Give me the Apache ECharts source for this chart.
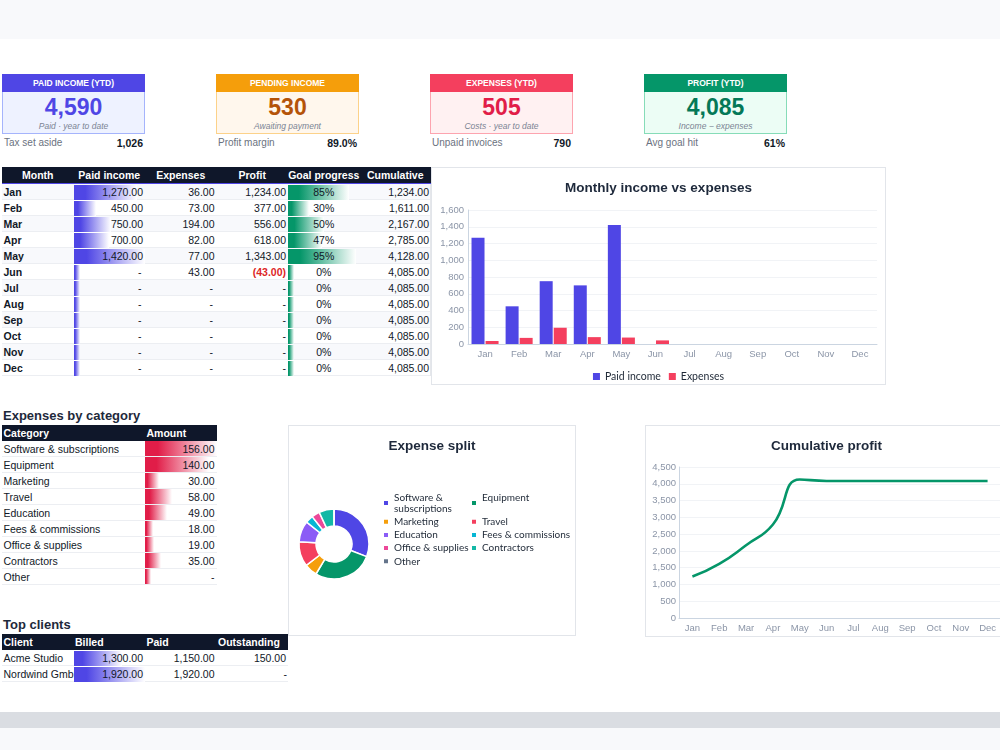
<!DOCTYPE html>
<html>
<head>
<meta charset="utf-8">
<script src="https://cdn.jsdelivr.net/npm/echarts@6/dist/echarts.min.js"></script>
<style>
*{box-sizing:border-box;}
html,body{margin:0;padding:0;}
body{width:1000px;height:750px;overflow:hidden;background:#fff;font-family:"Liberation Sans",Arial,sans-serif;color:#111827;}
#page{position:relative;width:1000px;height:750px;overflow:hidden;background:#fff;}
.a{position:absolute;}
.cell{position:absolute;overflow:hidden;white-space:nowrap;font-size:10.5px;color:#111827;}
.bar{position:absolute;left:0;}
.txt{position:relative;z-index:1;}
.box{position:absolute;border:1px solid #e2e5ea;background:#fff;}
.sec{font-weight:bold;font-size:13px;color:#1e293b;line-height:16px;white-space:nowrap;}
</style>
</head>
<body>
<div id="page">
  <div class="a" style="left:0;top:0;width:1000px;height:39px;background:#f8f9fb"></div>
  <div class="a" style="left:0;top:712px;width:1000px;height:16px;background:#dadde2"></div>
  <div class="a" style="left:0;top:728px;width:1000px;height:22px;background:#f8f9fb"></div>
  <div class="a sec" style="left:3px;top:408px">Expenses by category</div>
  <div class="a sec" style="left:3px;top:617px">Top clients</div>
  <div id="c1" class="box" style="left:431px;top:167px;width:455px;height:218px"></div>
  <div id="c2" class="box" style="left:288px;top:425px;width:288px;height:211px"></div>
  <div id="c3" class="box" style="left:645px;top:425px;width:363px;height:212px"></div>
</div>
<script>
// ---------------- DATA ----------------
const months = ['Jan','Feb','Mar','Apr','May','Jun','Jul','Aug','Sep','Oct','Nov','Dec'];
const paidIncome = [1270,450,750,700,1420,0,0,0,0,0,0,0];
const expenses = [36,73,194,82,77,43,0,0,0,0,0,0];
const profit = [1234,377,556,618,1343,-43,0,0,0,0,0,0];
const goalProgress = [85,30,50,47,95,0,0,0,0,0,0,0];
const cumulative = [1234,1611,2167,2785,4128,4085,4085,4085,4085,4085,4085,4085];
const monthHeaders = ['Month','Paid income','Expenses','Profit','Goal progress','Cumulative'];

const categories = ['Software & subscriptions','Equipment','Marketing','Travel','Education','Fees & commissions','Office & supplies','Contractors','Other'];
const categoryAmounts = [156,140,30,58,49,18,19,35,0];
const categoryHeaders = ['Category','Amount'];

const clients = ['Acme Studio','Nordwind GmbH'];
const clientBilled = [1300,1920];
const clientPaid = [1150,1920];
const clientOutstanding = [150,0];
const clientHeaders = ['Client','Billed','Paid','Outstanding'];

const kpiTitles = ['PAID INCOME (YTD)','PENDING INCOME','EXPENSES (YTD)','PROFIT (YTD)'];
const kpiValues = [4590,530,505,4085];
const kpiSubtitles = ['Paid · year to date','Awaiting payment','Costs · year to date','Income − expenses'];
const kpiFootLabels = ['Tax set aside','Profit margin','Unpaid invoices','Avg goal hit'];
const kpiFootValues = ['1,026','89.0%','790','61%'];

// ---------------- STYLES ----------------
const kpiStyles = [
  {head:'#4f46e5', bg:'#eef2ff', border:'#a5b4fc', num:'#4f46e5'},
  {head:'#f59e0b', bg:'#fff7ed', border:'#fcd28a', num:'#b45309'},
  {head:'#f43f5e', bg:'#fff1f2', border:'#fda4af', num:'#e11d48'},
  {head:'#059669', bg:'#ecfdf5', border:'#86dcb8', num:'#047857'}
];
const pieColors = ['#4f46e5','#059669','#f59e0b','#f43f5e','#8b5cf6','#06b6d4','#ec4899','#14b8a6','#64748b'];

const page = document.getElementById('page');
function el(css, text, cls, parent){
  const d = document.createElement('div');
  d.className = cls || 'a';
  d.style.cssText = css;
  if (text != null) d.textContent = text;
  (parent || page).appendChild(d);
  return d;
}
function fmt(v){
  if (v === 0) return '-';
  const s = Math.abs(v).toLocaleString('en-US',{minimumFractionDigits:2,maximumFractionDigits:2});
  return v < 0 ? '(' + s + ')' : s;
}
function cell(x,y,w,h,text,opts){
  opts = opts || {};
  const c = el(`left:${x}px;top:${y}px;width:${w}px;height:${h}px;`, null, 'cell');
  if (opts.barColor){
    const bw = Math.max(6, opts.value / opts.max * w);
    el(`top:0.5px;height:${h-1}px;width:${bw}px;background:linear-gradient(90deg,${opts.barColor},${opts.barColor} 18%,#ffffff)`, null, 'bar', c);
  }
  el(`line-height:${h}px;text-align:${opts.align||'right'};padding:0 ${opts.pad==null?2:opts.pad}px 0 ${opts.padL==null?2:opts.padL}px;${opts.style||''}`, text, 'txt', c);
  return c;
}

// ---------------- KPI CARDS ----------------
kpiTitles.forEach((t,i)=>{
  const s = kpiStyles[i];
  const x = 2 + i*214, w = 143;
  el(`left:${x}px;top:74px;width:${w}px;height:18px;background:${s.head};color:#fff;font-weight:bold;font-size:8.5px;line-height:18px;text-align:center;`, t);
  el(`left:${x}px;top:92px;width:${w}px;height:42px;background:${s.bg};border:1px solid ${s.border};border-top:none;`);
  el(`left:${x}px;top:94px;width:${w}px;height:26px;line-height:26px;text-align:center;font-weight:bold;font-size:23px;color:${s.num};`, kpiValues[i].toLocaleString('en-US'));
  el(`left:${x}px;top:120px;width:${w}px;height:12px;line-height:12px;text-align:center;font-style:italic;font-size:8.5px;color:#7b8494;`, kpiSubtitles[i]);
  el(`left:${x+2}px;top:136px;height:14px;line-height:14px;font-size:10px;color:#6b7280;white-space:nowrap;`, kpiFootLabels[i]);
  el(`left:${x}px;top:136px;width:${w-2}px;height:14px;line-height:14px;text-align:right;font-size:10.5px;font-weight:bold;color:#111827;`, kpiFootValues[i]);
});

// ---------------- MONTHLY TABLE ----------------
(function(){
  const L = 2, T = 167, cw = 71.5, hh = 17, rh = 16;
  el(`left:${L}px;top:${T}px;width:${cw*6}px;height:${hh}px;background:#0f172a;border-bottom:1.5px solid #4f46e5;`);
  monthHeaders.forEach((h,i)=>{
    el(`left:${L+i*cw}px;top:${T}px;width:${cw}px;height:${hh}px;line-height:${hh-1}px;text-align:center;color:#fff;font-weight:bold;font-size:10.5px;`, h, 'cell');
  });
  const maxPaid = Math.max(...paidIncome);
  months.forEach((m,r)=>{
    const y = T + hh + r*rh;
    el(`left:${L}px;top:${y}px;width:${cw*6}px;height:${rh}px;background:${r%2?'#ffffff':'#f8f9fc'};border-bottom:1px solid #eceef2;`);
    cell(L, y, cw, rh, m, {align:'left', padL:1.5, style:'font-weight:bold;color:#111827;'});
    cell(L+cw, y, cw, rh, fmt(paidIncome[r]), {barColor:'#4f46e5', value:paidIncome[r], max:maxPaid, pad: paidIncome[r]?2:3.5});
    cell(L+2*cw, y, cw, rh, fmt(expenses[r]), {pad: expenses[r]?2:3.5});
    cell(L+3*cw, y, cw, rh, fmt(profit[r]), {pad:2, style: profit[r]<0 ? 'color:#dc2626;font-weight:bold;' : ''});
    cell(L+4*cw, y, cw, rh, goalProgress[r] + '%', {barColor:'#059669', value:goalProgress[r], max:100, align:'center'});
    cell(L+5*cw, y, cw, rh, fmt(cumulative[r]), {pad:2});
  });
  el(`left:${L+cw*6-1}px;top:${T+hh}px;width:1px;height:${rh*12}px;background:#e5e7eb;`);
})();

// ---------------- CATEGORY TABLE ----------------
(function(){
  const L = 2, T = 424.5, hh = 16, rh = 16;
  const widths = [143, 71.5];
  const xs = [L, L+widths[0]];
  el(`left:${L}px;top:${T}px;width:${widths[0]+widths[1]}px;height:${hh}px;background:#0f172a;`);
  categoryHeaders.forEach((h,i)=>{
    el(`left:${xs[i]}px;top:${T}px;width:${widths[i]}px;height:${hh}px;line-height:${hh}px;padding-left:1.5px;color:#fff;font-weight:bold;font-size:10.5px;`, h, 'cell');
  });
  const maxA = Math.max(...categoryAmounts);
  categories.forEach((c,r)=>{
    const y = T + hh + r*rh;
    el(`left:${L}px;top:${y}px;width:${widths[0]+widths[1]}px;height:${rh}px;background:#fff;border-bottom:1px solid #eceef2;`);
    cell(xs[0], y, widths[0], rh, c, {align:'left', padL:1.5});
    cell(xs[1], y, widths[1], rh, fmt(categoryAmounts[r]), {barColor:'#e11d48', value:categoryAmounts[r], max:maxA, pad:2});
  });
})();

// ---------------- CLIENTS TABLE ----------------
(function(){
  const L = 2, T = 634, hh = 16, rh = 16, cw = 71.5;
  el(`left:${L}px;top:${T}px;width:${cw*4}px;height:${hh}px;background:#0f172a;`);
  clientHeaders.forEach((h,i)=>{
    el(`left:${L+i*cw}px;top:${T}px;width:${cw}px;height:${hh}px;line-height:${hh}px;padding-left:1.5px;color:#fff;font-weight:bold;font-size:10.5px;`, h, 'cell');
  });
  const maxB = Math.max(...clientBilled);
  clients.forEach((c,r)=>{
    const y = T + hh + r*rh;
    el(`left:${L}px;top:${y}px;width:${cw*4}px;height:${rh}px;background:#fff;border-bottom:1px solid #eceef2;`);
    cell(L, y, cw, rh, c, {align:'left', padL:1.5, pad:0});
    cell(L+cw, y, cw, rh, fmt(clientBilled[r]), {barColor:'#4f46e5', value:clientBilled[r], max:maxB});
    cell(L+2*cw, y, cw, rh, fmt(clientPaid[r]));
    cell(L+3*cw, y, cw, rh, fmt(clientOutstanding[r]), {pad: clientOutstanding[r]?2:1});
  });
})();

// ---------------- CHARTS ----------------
const axisLabelStyle = {color:'#8b95a7', fontSize:9.5, fontFamily:'Liberation Sans'};
const titleStyle = {fontSize:13.5, fontWeight:'bold', color:'#1e293b', fontFamily:'Liberation Sans'};
const thousands = v => Number(v).toLocaleString('en-US');

const c1 = echarts.init(document.getElementById('c1'), null, {renderer:'canvas'});
c1.setOption({
  animation:false,
  title:{text:'Monthly income vs expenses', left:'center', top:13, padding:0, textStyle:titleStyle},
  grid:{left:36, right:8, top:42, bottom:40, containLabel:false, outerBoundsMode:'none'},
  legend:{top:203, left:'center', padding:0, itemWidth:7, itemHeight:7, itemGap:8, icon:'rect',
    textStyle:{fontFamily:'Lato', fontSize:10.5, color:'#1f2937'}, data:['Paid income','Expenses']},
  xAxis:{type:'category', data:months, axisLine:{lineStyle:{color:'#cbd5e1'}}, axisTick:{show:false},
    axisLabel:Object.assign({margin:5, interval:0}, axisLabelStyle), splitLine:{show:false}},
  yAxis:{type:'value', min:0, max:1600, interval:200, axisLine:{show:true, lineStyle:{color:'#cbd5e1'}}, axisTick:{show:false},
    splitLine:{show:true, lineStyle:{color:'#f1f3f6'}}, axisLabel:Object.assign({margin:4, formatter:thousands}, axisLabelStyle)},
  series:[
    {name:'Paid income', type:'bar', data:paidIncome, barWidth:13, barGap:'8%', itemStyle:{color:'#4f46e5'}},
    {name:'Expenses', type:'bar', data:expenses, barWidth:13, itemStyle:{color:'#f43f5e'}}
  ]
});

const col1 = categories.filter((c,i)=>i%2===0);
const col2 = categories.filter((c,i)=>i%2===1);
const legendFmt = n => n === 'Software & subscriptions' ? 'Software &\nsubscriptions' : (n === 'Equipment' ? 'Equipment\n ' : n);
const legendBase = {orient:'vertical', top:66, padding:0, itemWidth:6, itemHeight:6, itemGap:2.2, icon:'rect', formatter:legendFmt,
  textStyle:{fontFamily:'Lato', fontSize:10, lineHeight:11, color:'#1f2937'}};
const c2 = echarts.init(document.getElementById('c2'));
c2.setOption({
  animation:false,
  color:pieColors,
  title:{text:'Expense split', left:'center', top:13, padding:0, textStyle:titleStyle},
  legend:[Object.assign({left:93, data:col1}, legendBase), Object.assign({left:181, data:col2}, legendBase)],
  series:[{type:'pie', radius:[18,35], center:[45,118], startAngle:90, clockwise:true,
    label:{show:false}, labelLine:{show:false}, emphasis:{disabled:true},
    itemStyle:{borderColor:'#fff', borderWidth:1.5},
    data:categories.map((c,i)=>({name:c, value:categoryAmounts[i]}))}]
});

const c3 = echarts.init(document.getElementById('c3'));
c3.setOption({
  animation:false,
  title:{text:'Cumulative profit', left:'center', top:13, padding:0, textStyle:titleStyle},
  grid:{left:33, right:6, top:41, bottom:18, containLabel:false, outerBoundsMode:'none'},
  xAxis:{type:'category', data:months, boundaryGap:true, axisLine:{lineStyle:{color:'#cbd5e1'}}, axisTick:{show:false},
    axisLabel:Object.assign({margin:5, interval:0}, axisLabelStyle)},
  yAxis:{type:'value', min:0, max:4500, interval:500, axisLine:{show:true, lineStyle:{color:'#cbd5e1'}}, axisTick:{show:false},
    splitLine:{show:true, lineStyle:{color:'#f1f3f6'}}, axisLabel:Object.assign({margin:3, formatter:thousands}, axisLabelStyle)},
  series:[{name:'Cumulative', type:'line', data:cumulative, smooth:0.5, showSymbol:false,
    lineStyle:{color:'#059669', width:2.6}, itemStyle:{color:'#059669'}}]
});
</script>
</body>
</html>
